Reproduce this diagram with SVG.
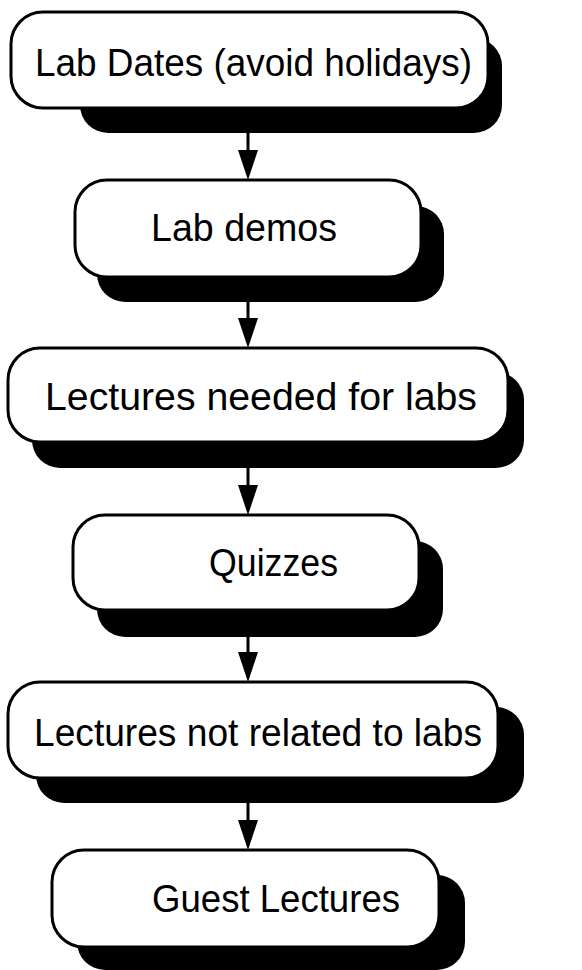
<svg xmlns="http://www.w3.org/2000/svg" width="582" height="970" viewBox="0 0 582 970">
<style>
.box{fill:#fff;stroke:#000;stroke-width:3}
.sh{fill:#000}
.t{font-family:"Liberation Sans",Arial,sans-serif;font-size:38px;fill:#000}
.ln{stroke:#000;stroke-width:3;fill:none}
.hd{fill:#000}
</style>
<rect width="582" height="970" fill="#fff"/>
<g id="connectors">
<line class="ln" x1="248" y1="133" x2="248" y2="154"/><polygon class="hd" points="238,150 258,150 248,180"/>
<line class="ln" x1="248" y1="302" x2="248" y2="322"/><polygon class="hd" points="238,318 258,318 248,348"/>
<line class="ln" x1="248" y1="468" x2="248" y2="489"/><polygon class="hd" points="238,485 258,485 248,515"/>
<line class="ln" x1="248" y1="637" x2="248" y2="656"/><polygon class="hd" points="238,652 258,652 248,682"/>
<line class="ln" x1="248" y1="803" x2="248" y2="824"/><polygon class="hd" points="238,820 258,820 248,850"/>
</g>
<g id="n1">
<rect class="sh" x="80" y="38" width="422" height="95" rx="28"/>
<rect class="box" x="11" y="12" width="477" height="96" rx="32"/>
<text class="t" x="35" y="76" textLength="437" lengthAdjust="spacingAndGlyphs">Lab Dates (avoid holidays)</text>
</g>
<g id="n2">
<rect class="sh" x="97" y="206" width="347" height="96" rx="28"/>
<rect class="box" x="75" y="180" width="346" height="97" rx="32"/>
<text class="t" x="151" y="241" textLength="186" lengthAdjust="spacingAndGlyphs">Lab demos</text>
</g>
<g id="n3">
<rect class="sh" x="32" y="372" width="492" height="96" rx="28"/>
<rect class="box" x="8" y="348" width="500" height="94" rx="32"/>
<text class="t" x="45" y="410" textLength="432" lengthAdjust="spacingAndGlyphs">Lectures needed for labs</text>
</g>
<g id="n4">
<rect class="sh" x="97" y="541" width="346" height="96" rx="28"/>
<rect class="box" x="73" y="515" width="346" height="95" rx="32"/>
<text class="t" x="209" y="576" textLength="129" lengthAdjust="spacingAndGlyphs">Quizzes</text>
</g>
<g id="n5">
<rect class="sh" x="36" y="707" width="488" height="96" rx="28"/>
<rect class="box" x="8" y="682" width="490" height="96" rx="32"/>
<text class="t" x="34" y="746" textLength="448" lengthAdjust="spacingAndGlyphs">Lectures not related to labs</text>
</g>
<g id="n6">
<rect class="sh" x="77" y="875" width="388" height="95" rx="28"/>
<rect class="box" x="52" y="850" width="387" height="97" rx="32"/>
<text class="t" x="152" y="912" textLength="248" lengthAdjust="spacingAndGlyphs">Guest Lectures</text>
</g>
</svg>
